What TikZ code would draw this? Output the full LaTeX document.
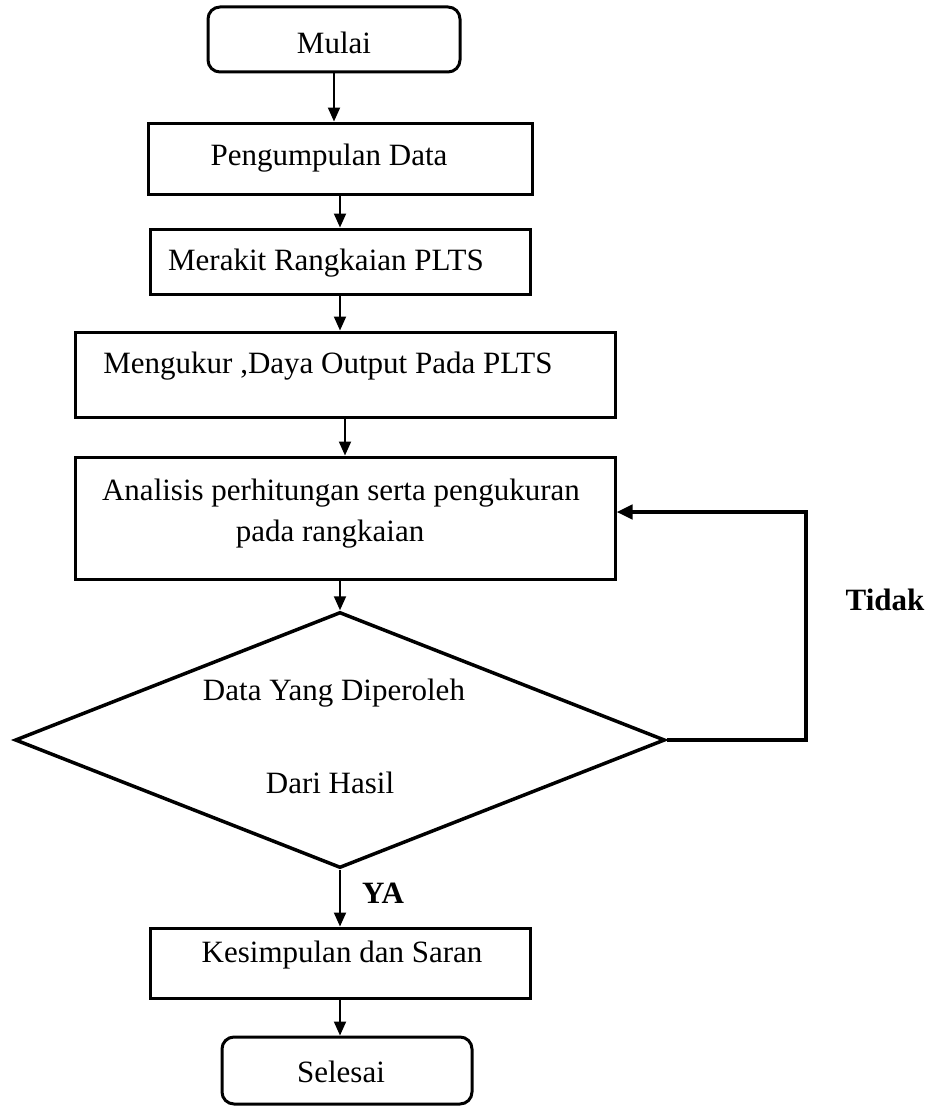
\documentclass[tikz,border=0pt]{standalone}
\usepackage{fontspec}
\setmainfont{Liberation Serif}
\usetikzlibrary{arrows.meta,shapes.geometric}
\begin{document}
\begin{tikzpicture}[x=1pt,y=-1pt,
  box/.style={draw,line width=3pt,inner sep=0pt},
  term/.style={box,rounded corners=12pt},
  txt/.style={font=\fontsize{31}{37}\selectfont,inner sep=0pt,anchor=base},
  lbl/.style={font=\fontsize{31}{37}\selectfont\bfseries,inner sep=0pt,anchor=base},
  arr/.style={line width=2pt,-{Triangle[length=14pt,width=12pt]}},
  back/.style={line width=4pt,-{Triangle[length=16pt,width=14pt]}},
]
\useasboundingbox (0,0) rectangle (933,1108);
% shapes
\node[term,minimum width=252pt,minimum height=65pt] (mulai) at (334,39.5) {};
\node[box,minimum width=384pt,minimum height=71pt] (pd) at (340,158.5) {};
\node[box,minimum width=380pt,minimum height=65pt] (mr) at (340,261.5) {};
\node[box,minimum width=540pt,minimum height=85pt] (mg) at (345,374.5) {};
\node[box,minimum width=540pt,minimum height=122pt] (an) at (345,518) {};
\node[diamond,draw,line width=3.5pt,minimum width=650pt,minimum height=256pt,aspect=2.54,inner sep=0pt] (dc) at (340,740) {};
\node[box,minimum width=380pt,minimum height=70pt] (ks) at (340,963) {};
\node[term,minimum width=250pt,minimum height=67pt] (sl) at (347,1070.5) {};
% texts
\node[txt] (t1) at (334,53) {Mulai};
\node[txt] (t2) at (329,165) {Pengumpulan Data};
\node[txt] (t3) at (326,270) {Merakit Rangkaian PLTS};
\node[txt] (t4) at (328,373) {Mengukur ,Daya Output Pada PLTS};
\node[txt] (t5) at (341,500) {Analisis perhitungan serta pengukuran};
\node[txt] (t6) at (330,541) {pada rangkaian};
\node[txt] (t7) at (334,700) {Data Yang Diperoleh};
\node[txt] (t8) at (330,793) {Dari Hasil};
\node[txt] (t9) at (342,962) {Kesimpulan dan Saran};
\node[txt] (t10) at (341,1082) {Selesai};
\node[lbl] (tidak) at (885,610) {Tidak};
\node[lbl] (ya) at (383,903) {YA};
% connectors
\draw[arr] (mulai) -- (mulai |- pd.north);
\draw[arr] (pd) -- (mr);
\draw[arr] (mr) -- (mr |- mg.north);
\draw[arr] (mg) -- (an);
\draw[arr] (dc |- an.south) -- (dc);
\draw[arr] (dc) -- (ks);
\draw[arr] (ks) -- (ks |- sl.north);
\coordinate (c1) at (806,740);
\coordinate (c2) at (806,512);
\draw[back] (dc.east) -- (c1) -- (c2) -- (c2 -| an.east);
\end{tikzpicture}
\end{document}
